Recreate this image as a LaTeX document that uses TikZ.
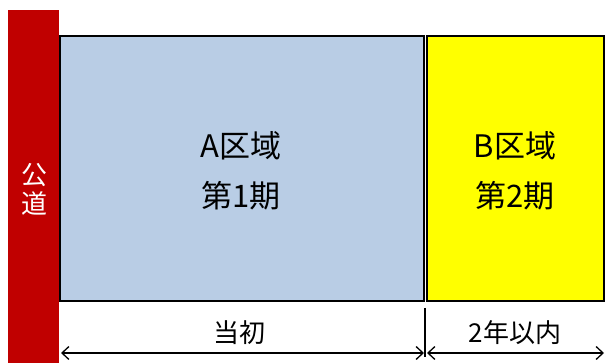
\documentclass[tikz,border=0pt]{standalone}
\usepackage{fontspec}
\newfontfamily\jp{Noto Sans CJK JP}
\usetikzlibrary{arrows.meta}
\definecolor{roadred}{HTML}{C00000}
\definecolor{areablue}{HTML}{B9CDE5}
\definecolor{areayellow}{HTML}{FFFF00}
\tikzset{
  area/.style={draw=black, line width=2pt},
  lbl/.style={font=\jp\fontsize{31}{35}\selectfont, inner sep=0pt, align=center},
  sublbl/.style={font=\jp\fontsize{26}{30}\selectfont, inner sep=0pt},
  dim/.style={line width=1.3pt, {Straight Barb[length=7pt,width=13pt,line width=1.3pt]}-{Straight Barb[length=7pt,width=13pt,line width=1.3pt]}},
}
\begin{document}
\begin{tikzpicture}[x=1pt,y=-1pt]
\useasboundingbox (0,0) rectangle (605,363);
\fill[roadred] (8,10) rectangle (59,363);
\node[font=\jp\fontsize{26}{30}\selectfont, text=white, inner sep=0pt] (road1) at (34,175) {公};
\node[font=\jp\fontsize{26}{30}\selectfont, text=white, inner sep=0pt] (road2) at (34,204) {道};
\draw[area, fill=areablue] (60,36) rectangle (424,301);
\draw[area, fill=areayellow] (427,36) rectangle (604,301);
\node[lbl] (a1) at (241,146) {A区域};
\node[lbl] (a2) at (241,196) {第1期};
\node[lbl] (b1) at (515,146) {B区域};
\node[lbl] (b2) at (515,196) {第2期};
\coordinate (sepTop) at (425,308);
\coordinate (sepBot) at (425,357);
\draw[line width=1.3pt] (sepTop) -- (sepBot);
\coordinate (l) at (61,353);
\coordinate (m1) at (424,353);
\coordinate (m2) at (427,353);
\coordinate (r) at (604,353);
\draw[dim] (l) -- (m1);
\draw[dim] (m2) -- (r);
\node[sublbl] (t1) at (239,333) {当初};
\node[sublbl] (t2) at (515,333) {2年以内};
\end{tikzpicture}
\end{document}
